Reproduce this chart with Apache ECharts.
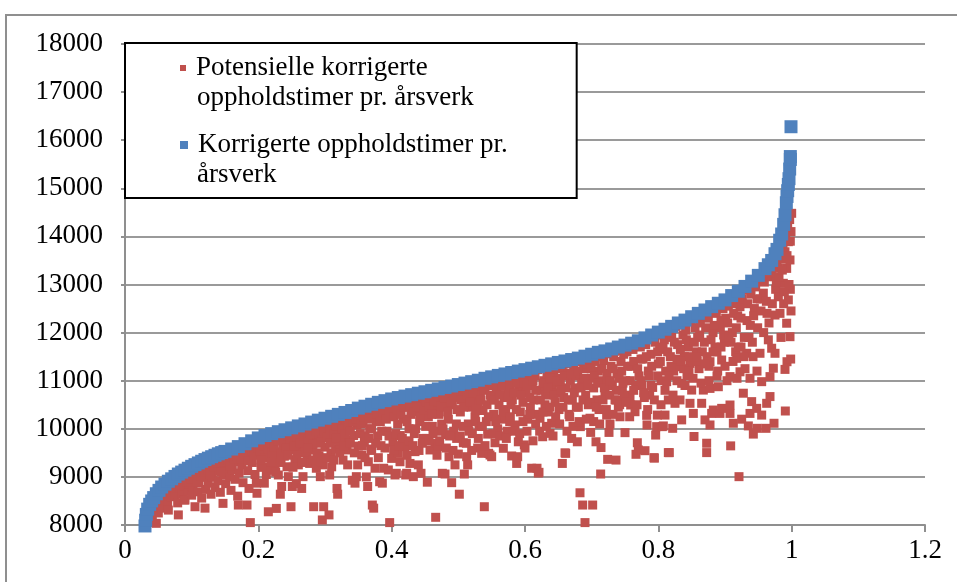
<!DOCTYPE html>
<html>
<head>
<meta charset="utf-8">
<script src="https://cdn.jsdelivr.net/npm/echarts@6/dist/echarts.min.js"></script>
<style>
  html, body { margin: 0; padding: 0; background: #fff; overflow: hidden; }
  #frame { position: absolute; left: 5px; top: 14px; width: 2000px; height: 2000px; border: 2px solid #8f8f8f; }
  #chart { position: absolute; left: 0; top: 0; width: 957px; height: 582px; }
</style>
</head>
<body>
<div id="frame"></div>
<div id="chart"></div>
<script>
// series names (legend)
var redName = 'Potensielle korrigerte\noppholdstimer pr. årsverk';
var blueName = 'Korrigerte oppholdstimer pr.\nårsverk';

// x axis ticks 0 .. 1.2, y axis 8000 .. 18000
var xTicks = [0, 0.2, 0.4, 0.6, 0.8, 1, 1.2];
var yTicks = [8000, 18000];

// Korrigerte oppholdstimer pr. årsverk (sorted)
var bluePoints = [
  [0.030,7980],[0.031,8100],[0.032,8220],[0.034,8330],[0.037,8430],[0.040,8500],[0.043,8570],[0.047,8650],
  [0.051,8720],[0.055,8790],[0.060,8850],[0.065,8910],[0.070,8960],[0.075,9010],[0.080,9060],[0.085,9100],
  [0.090,9140],[0.095,9180],[0.100,9220],[0.105,9255],[0.110,9290],[0.115,9325],[0.120,9360],[0.125,9390],
  [0.130,9420],[0.135,9450],[0.140,9480],[0.145,9505],[0.150,9530],[0.160,9580],[0.170,9630],[0.180,9690],
  [0.190,9750],[0.200,9810],[0.210,9860],[0.220,9900],[0.230,9940],[0.240,9980],[0.250,10020],[0.260,10060],
  [0.270,10100],[0.280,10140],[0.290,10180],[0.300,10220],[0.310,10260],[0.320,10300],[0.330,10340],[0.340,10380],
  [0.350,10430],[0.360,10470],[0.370,10510],[0.380,10550],[0.390,10585],[0.400,10620],[0.410,10650],[0.420,10680],
  [0.430,10710],[0.440,10740],[0.450,10770],[0.460,10800],[0.470,10830],[0.480,10860],[0.490,10890],[0.500,10920],
  [0.510,10950],[0.520,10980],[0.530,11010],[0.540,11050],[0.550,11080],[0.560,11110],[0.570,11140],[0.580,11170],
  [0.590,11200],[0.600,11230],[0.610,11260],[0.620,11290],[0.630,11320],[0.640,11350],[0.650,11380],[0.660,11410],
  [0.670,11440],[0.680,11470],[0.690,11510],[0.700,11550],[0.710,11590],[0.720,11620],[0.730,11660],[0.740,11700],
  [0.750,11740],[0.760,11780],[0.770,11830],[0.780,11890],[0.790,11950],[0.800,12010],[0.810,12070],[0.820,12130],
  [0.830,12200],[0.840,12260],[0.850,12330],[0.860,12400],[0.870,12470],[0.880,12540],[0.890,12610],[0.900,12680],
  [0.910,12770],[0.920,12860],[0.930,12960],[0.940,13070],[0.950,13190],[0.960,13330],[0.965,13410],[0.970,13500],
  [0.975,13640],[0.978,13730],[0.982,13920],[0.985,14050],[0.988,14250],[0.990,14450],[0.992,14700],[0.993,14830],
  [0.994,14950],[0.995,15080],[0.996,15200],[0.997,15400],[0.998,15600],[0.998,15660],[0.999,16280]
];

// Potensielle korrigerte oppholdstimer pr. årsverk
var redPoints = [
  [0.036,8050],[0.041,8120],[0.044,8300],[0.047,8035],[0.048,8420],[0.050,8250],
  [0.052,8480],[0.055,8350],[0.057,8600],[0.060,8520],[0.062,8680],[0.064,8410],[0.065,8310],[0.068,8750],[0.069,8590],
  [0.071,8830],[0.073,8700],[0.075,8590],[0.077,8880],[0.079,8460],[0.080,8210],[0.082,8760],[0.084,8930],[0.086,8640],[0.088,8820],[0.089,8520],
  [0.090,8520],[0.092,8980],[0.094,8700],[0.096,8860],[0.098,9030],[0.100,8620],[0.102,8780],[0.104,8950],[0.105,8380],[0.107,9080],[0.109,8690],
  [0.111,8880],[0.113,9150],[0.115,8560],[0.117,8990],[0.119,9200],[0.120,8350],[0.121,8740],[0.123,9060],[0.125,8870],[0.127,9230],[0.129,8640],
  [0.131,9000],[0.133,9300],[0.135,8780],[0.137,9130],[0.139,8920],[0.141,9350],[0.143,8680],[0.145,9200],[0.147,8450],[0.148,9050],[0.149,9380],
  [0.151,8860],[0.153,9260],[0.155,9440],[0.157,9000],[0.159,8720],[0.161,9150],[0.163,9470],[0.165,8950],[0.167,9320],[0.169,8600],[0.170,8415],
  [0.171,9080],[0.173,9520],[0.175,9250],[0.177,8880],[0.179,9400],[0.181,9560],[0.183,8415],[0.184,9130],[0.186,8760],[0.188,8050],[0.189,9460],
  [0.191,9300],[0.193,9620],[0.195,9050],[0.197,8870],[0.198,8660],[0.200,9480],[0.202,9650],[0.204,9200],[0.206,9560],[0.207,9210],[0.209,8870],
  [0.211,9700],[0.213,9420],[0.215,8275],[0.217,9600],[0.219,9140],[0.221,9750],[0.223,9350],[0.225,9250],[0.227,8345],[0.228,9520],[0.230,9040],
  [0.231,9790],[0.233,8640],[0.235,8800],[0.237,9650],[0.239,9430],[0.241,9820],[0.243,9210],[0.245,9005],[0.247,9560],[0.249,8380],[0.250,9700],
  [0.251,8800],[0.253,9880],[0.255,9360],[0.257,8860],[0.259,9620],[0.260,9250],[0.262,9780],[0.264,9500],[0.265,8760],[0.267,9005],[0.269,9900],
  [0.271,9640],[0.273,9420],[0.275,9950],[0.277,9280],[0.279,9780],[0.281,9560],[0.283,8380],[0.285,9860],[0.287,9180],[0.289,9700],[0.290,10000],
  [0.291,9440],[0.293,9005],[0.295,9820],[0.296,8105],[0.297,9250],[0.298,8380],[0.300,9620],[0.302,10050],[0.304,9900],[0.306,8210],[0.307,9040],[0.309,9500],
  [0.310,9210],[0.312,9760],[0.314,10100],[0.316,9580],[0.318,8760],[0.319,8640],[0.321,9940],[0.323,9680],[0.325,10150],[0.327,9350],[0.329,9820],
  [0.331,10180],[0.333,9560],[0.335,10000],[0.337,9760],[0.339,10220],[0.341,8930],[0.343,9860],[0.345,8870],[0.347,9005],[0.348,10080],[0.350,9640],
  [0.351,10260],[0.353,9900],[0.355,9455],[0.357,10120],[0.359,9720],[0.361,10300],[0.362,9000],[0.364,8800],[0.365,9315],[0.367,10000],[0.369,9580],
  [0.371,8415],[0.373,8350],[0.374,10350],[0.375,9180],[0.377,10150],[0.379,9850],[0.381,10400],[0.382,8900],[0.384,9650],[0.386,8870],[0.388,9180],[0.389,10250],
  [0.391,10450],[0.393,9950],[0.395,9145],[0.397,8050],[0.399,10300],[0.400,9385],[0.402,9720],[0.404,10480],[0.405,9040],[0.407,9075],[0.409,10100],[0.410,9490],
  [0.411,10400],[0.413,9860],[0.4125,9315],[0.415,10520],[0.417,10200],[0.419,9700],[0.420,9630],[0.421,9040],[0.4225,9075],[0.424,10450],[0.426,10000],[0.4275,9280],[0.429,10300],
  [0.431,10560],[0.4325,9005],[0.434,9900],[0.435,9525],[0.437,10350],[0.439,10600],[0.440,9250],[0.442,10150],[0.444,9075],[0.445,10480],[0.447,9800],[0.449,10580],
  [0.4525,9800],[0.4535,8890],[0.455,10250],[0.4575,9560],[0.459,10620],[0.461,10050],[0.463,10400],[0.465,9700],[0.466,8160],[0.467,10550],[0.469,9950],[0.470,9630],
  [0.471,10300],[0.473,10660],[0.475,10100],[0.476,9075],[0.478,10450],[0.480,9060],[0.481,9880],[0.483,10600],[0.485,10200],[0.486,9420],[0.488,10700],[0.490,8880],
  [0.491,10500],[0.493,9950],[0.495,9250],[0.4975,9800],[0.499,10650],[0.500,9475],[0.5015,8640],[0.503,10350],[0.505,10750],[0.5075,9710],[0.509,9060],[0.510,10550],
  [0.5125,9420],[0.514,9250],[0.515,10100],[0.517,10780],[0.519,10450],[0.521,9900],[0.523,10650],[0.525,10250],[0.527,10820],[0.529,9600],[0.530,10500],
  [0.531,10050],[0.533,10700],[0.535,9490],[0.537,10380],[0.539,8380],[0.540,10860],[0.542,10150],[0.544,9890],[0.5455,9490],[0.5475,9455],[0.549,10600],[0.550,9420],
  [0.551,10900],[0.553,10300],[0.555,9710],[0.557,10750],[0.559,10000],[0.561,10500],[0.563,10880],[0.565,10200],[0.5675,9595],[0.569,10650],[0.570,10950],
  [0.571,10400],[0.573,9950],[0.575,10800],[0.577,10150],[0.580,9435],[0.581,10600],[0.583,10980],[0.585,10080],[0.5875,9280],[0.589,9420],[0.590,9730],
  [0.591,10850],[0.593,10350],[0.595,11000],[0.597,10550],[0.599,9665],[0.600,9600],[0.602,10750],[0.604,10200],[0.606,11050],[0.608,10450],[0.610,9180],
  [0.611,10900],[0.613,10600],[0.615,11100],[0.617,10300],[0.618,9180],[0.620,9080],[0.621,9095],[0.6225,10220],[0.624,10800],[0.6265,9835],[0.628,11000],[0.630,10500],
  [0.631,10700],[0.633,11150],[0.635,10350],[0.6375,9905],[0.640,10115],[0.641,10900],[0.643,11200],[0.645,10550],[0.647,10750],[0.649,11050],
  [0.651,10400],[0.653,10950],[0.655,11250],[0.656,9280],[0.658,10650],[0.660,9500],[0.661,9490],[0.662,10850],[0.664,11150],[0.666,10300],[0.668,11000],[0.670,9800],
  [0.671,10600],[0.673,11300],[0.675,10850],[0.677,11100],[0.6785,9730],[0.680,10450],[0.6825,8670],[0.683,10045],[0.685,10950],[0.6865,8415],[0.688,11250],[0.690,8050],
  [0.691,10700],[0.693,11350],[0.695,10500],[0.6975,10220],[0.6985,9925],[0.700,11050],[0.7015,8415],[0.703,10850],[0.705,11400],[0.7065,9730],[0.708,10600],[0.710,11200],
  [0.711,10400],[0.7135,9060],[0.714,9610],[0.716,11000],[0.718,11420],[0.720,10750],[0.7225,10285],[0.724,9365],[0.726,9925],[0.7275,10100],[0.729,11300],
  [0.731,10900],[0.733,11500],[0.735,10600],[0.7365,9350],[0.738,11150],[0.740,10450],[0.7425,10250],[0.744,11400],[0.746,10800],[0.748,11550],[0.750,9920],
  [0.751,11000],[0.753,11600],[0.755,10700],[0.7575,10670],[0.7585,10495],[0.760,11300],[0.762,11650],[0.765,10355],[0.7665,9470],[0.7685,9710],[0.770,9560],
  [0.771,11100],[0.773,11700],[0.775,10900],[0.777,11450],[0.780,9545],[0.781,11750],[0.7825,10280],[0.783,10080],[0.785,11200],[0.787,10700],[0.789,11550],
  [0.7915,10860],[0.7935,9400],[0.794,9390],[0.795,11800],[0.796,9870],[0.7975,10045],[0.7985,10285],[0.800,11350],[0.802,11650],[0.804,11000],[0.806,10045],[0.8075,10060],[0.809,11850],
  [0.810,10285],[0.8125,10980],[0.815,9505],[0.815,10600],[0.8165,9505],[0.818,11500],[0.820,11900],[0.8215,10010],[0.823,11200],[0.825,10530],[0.8275,11290],[0.829,11750],
  [0.8325,10600],[0.835,10945],[0.835,10185],[0.837,11950],[0.839,11500],[0.841,12050],[0.843,11100],[0.845,11700],[0.8475,10530],[0.8475,11360],[0.850,10805],
  [0.8525,10320],[0.8535,9840],[0.855,12100],[0.857,11600],[0.859,11900],[0.861,11250],[0.863,12200],[0.865,10530],[0.8675,10805],[0.869,11800],[0.870,10185],
  [0.8725,9505],[0.8725,9700],[0.873,11500],[0.875,12300],[0.8775,10840],[0.8775,10080],[0.8775,11395],[0.880,10320],[0.882,12000],[0.8825,10390],[0.885,11700],[0.887,12400],[0.889,11200],
  [0.890,10875],[0.8925,10320],[0.893,12100],[0.895,10425],[0.895,11430],[0.897,12500],[0.899,11800],[0.901,12300],[0.903,11000],[0.905,12550],[0.9075,11085],[0.9075,10320],[0.9075,10495],[0.9085,9645],
  [0.911,12000],[0.9125,10115],[0.914,12600],[0.916,11600],[0.9175,11465],[0.919,12350],[0.921,9005],[0.9225,11185],[0.9225,12540],[0.925,10200],[0.926,12700],[0.9275,10740],[0.929,11900],
  [0.9325,11570],[0.933,12250],[0.935,10060],[0.9375,10320],[0.9375,11050],[0.939,12800],[0.940,10565],[0.941,11800],[0.9425,9890],[0.944,12500],[0.946,12950],[0.9475,10425],[0.9485,10010],[0.949,12100],
  [0.9525,11570],[0.953,12700],[0.955,10980],[0.955,10285],[0.9575,12820],[0.959,13050],[0.9615,10010],[0.9625,10530],[0.963,12400],[0.965,11850],[0.9675,10670],[0.9675,11085],[0.969,13250],[0.970,11675],[0.970,13160],
  [0.9725,11260],[0.9735,10115],[0.975,11570],[0.975,12365],[0.976,12900],[0.978,13450],[0.980,12745],[0.980,13335],[0.9825,12400],[0.984,11900],[0.9875,13025],[0.9875,13525],[0.988,12600],[0.990,11235],[0.990,13680],[0.9905,10370],
  [0.9925,12195],[0.9925,13335],[0.993,11395],[0.995,12680],[0.995,13890],[0.9975,11915],[0.9975,13510],[0.998,12900],[0.999,14100],[1.000,14480],[0.9985,11450],
  // dense band just under the blue curve
  [0.061,8760],[0.066,8800],[0.072,8870],[0.076,8920],[0.081,8960],[0.083,8850],[0.087,9000],[0.091,9040],[0.093,8900],[0.097,9080],[0.099,8950],
  [0.101,9120],[0.103,9050],[0.106,9160],[0.108,8900],[0.112,9190],[0.114,9020],[0.116,9230],[0.118,9100],[0.122,9260],[0.124,9150],[0.126,9300],[0.128,9050],[0.132,9330],[0.134,9200],[0.136,9370],[0.138,9280],[0.142,9400],[0.144,9100],[0.146,9420],[0.1485,9300],
  [0.152,9440],[0.154,9350],[0.156,9480],[0.158,9220],[0.162,9500],[0.164,9380],[0.166,9540],[0.168,9430],[0.172,9560],[0.174,9380],[0.176,9600],[0.178,9500],[0.182,9620],[0.185,9330],[0.187,9660],[0.190,9540],[0.192,9700],[0.194,9450],[0.196,9720],[0.199,9600],
  [0.201,9740],[0.203,9520],[0.205,9760],[0.208,9650],[0.210,9400],[0.212,9800],[0.214,9580],[0.216,9830],[0.218,9700],[0.220,9500],[0.222,9860],[0.224,9620],[0.226,9880],[0.229,9750],[0.232,9910],[0.234,9480],[0.236,9880],[0.238,9720],[0.240,9940],[0.242,9600],[0.244,9850],[0.246,9960],[0.248,9780],
  [0.252,9980],[0.254,9650],[0.256,10000],[0.258,9820],[0.261,10020],[0.263,9700],[0.266,10040],[0.268,9850],[0.270,9520],[0.272,10060],[0.274,9780],[0.276,10080],[0.278,9900],[0.280,10100],[0.282,9680],[0.284,10120],[0.286,9950],[0.288,10140],[0.292,10150],[0.294,9720],[0.297,10160],[0.299,9950],
  [0.301,10180],[0.303,9820],[0.305,10200],[0.308,10000],[0.311,10220],[0.313,9900],[0.315,10240],[0.317,10050],[0.320,10260],[0.322,9750],[0.324,10280],[0.326,10000],[0.328,10300],[0.330,9900],[0.332,10310],[0.334,10100],[0.336,10330],[0.338,9950],[0.340,10340],[0.342,10150],[0.344,10360],[0.346,10200],[0.349,10380],
  [0.352,10400],[0.354,10100],[0.356,10410],[0.358,10250],[0.360,9850],[0.363,10430],[0.366,10200],[0.368,10450],[0.370,10000],[0.372,10460],[0.376,10470],[0.378,10300],[0.380,10490],[0.383,10150],[0.385,10500],[0.387,10350],[0.390,10520],[0.392,10200],[0.394,10540],[0.396,10380],[0.398,10560],
  [0.401,10570],[0.403,10250],[0.406,10580],[0.408,10400],[0.412,10600],[0.414,10300],[0.416,10620],[0.418,10450],[0.422,10630],[0.423,10150],[0.425,10640],[0.428,10500],[0.430,10650],[0.433,10350],[0.436,10670],[0.438,10450],[0.441,10680],[0.443,10250],[0.446,10700],[0.448,10400],[0.450,10710],
  [0.451,10550],[0.454,10730],[0.456,10450],[0.458,10740],[0.460,10300],[0.462,10760],[0.464,10580],[0.468,10770],[0.472,10790],[0.474,10480],[0.477,10800],[0.479,10650],[0.482,10820],[0.484,10350],[0.487,10830],[0.489,10550],[0.492,10850],[0.494,10700],[0.496,10860],[0.498,10400],
  [0.502,10870],[0.504,10600],[0.506,10880],[0.508,10450],[0.511,10900],[0.513,10700],[0.516,10920],[0.518,10550],[0.520,10930],[0.522,10750],[0.524,10950],[0.526,10400],[0.528,10970],[0.532,10980],[0.534,10600],[0.536,10990],[0.538,10800],[0.541,11000],[0.543,10500],[0.546,11020],[0.548,10700],
  [0.552,11030],[0.554,10600],[0.556,11040],[0.558,10850],[0.560,11060],[0.562,10700],[0.564,11070],[0.566,10900],[0.568,11080],[0.572,11100],[0.574,10650],[0.576,11110],[0.578,10900],[0.579,10500],[0.582,11130],[0.584,10750],[0.586,11140],[0.588,10950],[0.592,11160],[0.594,10700],[0.596,11170],[0.598,10950],
  [0.601,11180],[0.603,10900],[0.605,11190],[0.607,10650],[0.609,11200],[0.612,11000],[0.614,11220],[0.616,10800],[0.619,11230],[0.622,11250],[0.623,10600],[0.625,11260],[0.627,10950],[0.629,11270],[0.632,11280],[0.634,10850],[0.636,11300],[0.638,11050],[0.642,11310],[0.644,10700],[0.646,11320],[0.648,11000],
  [0.652,11330],[0.654,10800],[0.657,11340],[0.659,11100],[0.663,11350],[0.665,10600],[0.667,11370],[0.669,11150],[0.672,11380],[0.674,10750],[0.676,11400],[0.679,11200],[0.681,11410],[0.684,10850],[0.686,11420],[0.689,11050],[0.692,11440],[0.694,10900],[0.696,11460],[0.699,11250],
  [0.702,11480],[0.704,11100],[0.706,11500],[0.709,10950],[0.712,11520],[0.715,11250],[0.717,11540],[0.719,10850],[0.721,11560],[0.723,11150],[0.725,11570],[0.728,11000],[0.730,11590],[0.732,11250],[0.734,11610],[0.737,10800],[0.739,11630],[0.741,11050],[0.743,11650],[0.745,11200],[0.747,11660],[0.749,10650],
  [0.752,11680],[0.754,11300],[0.756,11700],[0.758,11000],[0.761,11720],[0.763,11400],[0.764,11750],[0.766,10900],[0.768,11780],[0.769,11250],[0.772,11800],[0.774,11450],[0.776,11830],[0.778,10750],[0.779,11850],[0.782,11500],[0.784,11880],[0.786,11100],[0.788,11900],[0.790,11300],[0.792,11920],[0.797,11950],[0.799,11600],
  [0.801,11980],[0.803,11400],[0.805,12000],[0.807,11700],[0.808,12020],[0.811,11200],[0.813,12050],[0.814,11600],[0.817,12080],[0.819,11300],[0.821,12100],[0.824,11800],[0.826,12130],[0.828,11450],[0.831,12160],[0.833,11650],[0.836,12180],[0.838,11250],[0.840,12210],[0.842,11850],[0.844,12240],[0.846,11500],[0.849,12260],
  [0.851,12280],[0.854,11800],[0.856,12300],[0.858,11400],[0.860,12340],[0.862,11950],[0.864,12370],[0.866,11600],[0.868,12400],[0.871,12100],[0.874,12430],[0.876,11300],[0.878,12460],[0.879,11850],[0.881,12480],[0.884,12150],[0.886,12500],[0.888,11600],[0.891,12540],[0.894,12250],[0.896,12570],[0.898,11950],
  [0.902,12620],[0.904,12200],[0.906,12650],[0.909,11800],[0.910,12700],[0.913,12400],[0.915,12740],[0.917,12100],[0.918,12780],[0.920,11700],[0.923,12820],[0.924,12300],[0.927,12880],[0.928,11500],[0.931,12920],[0.934,12600],[0.936,12980],[0.938,12150],[0.942,13030],[0.943,12350],[0.945,13080],[0.948,12700],
  [0.951,13120],[0.954,12450],[0.956,13180],[0.958,12000],[0.960,13230],[0.962,12650],[0.964,13300],[0.966,12200],[0.968,13380],[0.971,12600],[0.973,13420],[0.977,13050],[0.979,13600],[0.981,13150],[0.983,13700],[0.986,13300],[0.987,13850],[0.989,12850],[0.991,14000],[0.993,13600],[0.994,14200],[0.996,13000],[0.997,14350],[0.999,12450],[0.998,13900],
  // middle of the cloud
  [0.204,9350],[0.212,9050],[0.219,9300],[0.226,9100],[0.234,9300],[0.244,9450],[0.252,9200],[0.258,9450],[0.266,9300],[0.274,9600],[0.282,9350],[0.288,9500],[0.294,9300],
  [0.303,9400],[0.308,9700],[0.313,9350],[0.317,9800],[0.322,9500],[0.328,9650],[0.334,9250],[0.338,9700],[0.344,9500],[0.349,9250],[0.356,9650],[0.360,9400],[0.366,9800],[0.370,9550],[0.376,9700],[0.380,9400],[0.385,9950],[0.390,9600],[0.396,9850],
  [0.403,9550],[0.406,9900],[0.411,9650],[0.416,9800],[0.423,9450],[0.426,9750],[0.432,9650],[0.436,10000],[0.441,9550],[0.446,9700],[0.451,10050],[0.456,9750],[0.462,9900],[0.468,9450],[0.472,9750],[0.477,10000],[0.482,9600],[0.487,9850],[0.492,9550],[0.497,10100],
  [0.503,9850],[0.507,10050],[0.512,9700],[0.516,9950],[0.520,9550],[0.526,10150],[0.530,9800],[0.536,10050],[0.540,9650],[0.545,10250],[0.552,9900],[0.556,10150],[0.562,9850],[0.567,10350],[0.572,9800],[0.578,10250],[0.582,9950],[0.587,10400],[0.592,9900],[0.597,10150],
  [0.603,9950],[0.607,10300],[0.612,9750],[0.616,10100],[0.622,9950],[0.627,10350],[0.632,10050],[0.637,10450],[0.642,9850],[0.646,10250],[0.652,10100],[0.657,10450],[0.663,9950],[0.667,10250],[0.672,10050],[0.677,10450],[0.681,10150],[0.687,10600],[0.692,10200],[0.697,10550],
  [0.703,10150],[0.707,10450],[0.712,10100],[0.717,10600],[0.722,10400],[0.727,10700],[0.732,10300],[0.737,10600],[0.742,10500],[0.747,10950],[0.752,10550],[0.757,10250],[0.763,10800],[0.768,10500],[0.774,11000],[0.779,10650],[0.784,10400],[0.789,10900],[0.794,10600],[0.799,11100],
  [0.804,10500],[0.810,10800],[0.816,11100],[0.822,10700],[0.828,11000],[0.834,11400],[0.840,10900],[0.846,11200],[0.852,11050],[0.858,11500],[0.864,10950],[0.870,11350],[0.876,11000],[0.882,11600],[0.888,11100],[0.894,11700],[0.900,11300],[0.906,11900],[0.912,11400],[0.918,11050],[0.924,11700],[0.930,11250],[0.936,11900],[0.942,11500],[0.948,11200]
];

var redColor = '#C0504D';
var blueColor = '#4F81BD';
var font = 'Liberation Serif';

var myChart = echarts.init(document.getElementById('chart'));

var option = {
    animation: false,
    grid: { left: 125, right: 32, top: 44, bottom: 57 },
    xAxis: {
        type: 'value',
        min: xTicks[0],
        max: xTicks[xTicks.length - 1],
        interval: 0.2,
        axisLine: { lineStyle: { color: '#8f8f8f', width: 2 } },
        axisTick: { show: true, length: 7, lineStyle: { color: '#8f8f8f', width: 2 } },
        axisLabel: {
            color: '#000', fontFamily: font, fontSize: 27, margin: 12,
            formatter: function (v) { return String(+v.toFixed(1)); }
        },
        splitLine: { show: false }
    },
    yAxis: {
        type: 'value',
        min: yTicks[0],
        max: yTicks[1],
        interval: 1000,
        axisLine: { show: true, lineStyle: { color: '#8f8f8f', width: 2 } },
        axisTick: { show: true, length: 4, lineStyle: { color: '#8f8f8f', width: 2 } },
        axisLabel: {
            color: '#000', fontFamily: font, fontSize: 27, margin: 22,
            formatter: function (v) { return String(v); }
        },
        splitLine: { lineStyle: { color: '#9a9a9a', width: 2 } }
    },
    legend: {
        orient: 'vertical',
        left: 125,
        top: 43,
        icon: 'none',
        itemWidth: 0,
        itemHeight: 7,
        itemGap: 17,
        padding: [10, 69, 8, 50],
        backgroundColor: '#fff',
        borderColor: '#000',
        borderWidth: 2,
        borderRadius: 0,
        data: [redName, blueName],
        formatter: function (name) {
            var lines = name.split('\n');
            var tag = name === redName ? 'r' : 'b';
            return '{' + tag + '|}{g|}{t|' + lines[0] + '}\n{i|}{t|' + lines[1] + '}';
        },
        textStyle: {
            fontFamily: font,
            fontSize: 27,
            color: '#000',
            lineHeight: 30,
            rich: {
                r: { width: 6, height: 6, backgroundColor: redColor },
                b: { width: 8, height: 8, backgroundColor: blueColor },
                g: { width: 10 },
                i: { width: 17 },
                t: { fontFamily: font, fontSize: 27, color: '#000', lineHeight: 30 }
            }
        }
    },
    series: [
        {
            name: redName,
            type: 'scatter',
            symbol: 'rect',
            symbolSize: 9,
            clip: false,
            itemStyle: { color: redColor, opacity: 1 },
            data: redPoints,
            z: 2
        },
        {
            name: blueName,
            type: 'scatter',
            symbol: 'rect',
            symbolSize: 13,
            clip: false,
            itemStyle: { color: blueColor, opacity: 1 },
            data: bluePoints,
            z: 3
        }
    ]
};

myChart.setOption(option);
</script>
</body>
</html>
